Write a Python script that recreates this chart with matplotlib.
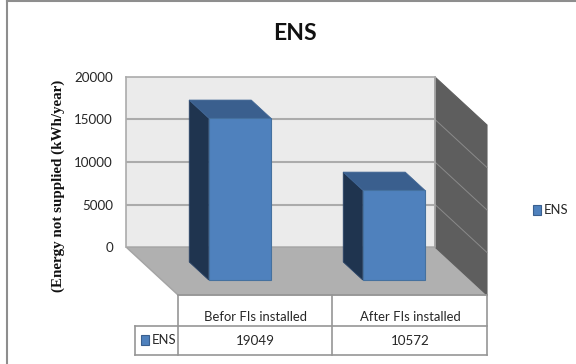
import matplotlib
matplotlib.use("Agg")
import matplotlib.pyplot as plt
from matplotlib.patches import Polygon, Rectangle

categories = ["Befor FIs installed", "After FIs installed"]
series_name = "ENS"
values = [19049, 10572]
y_ticks = [0, 5000, 10000, 15000, 20000]

W, H = 576, 364
UI_FONT = ["Lato", "DejaVu Sans"]
TEXT = "#262626"

fig = plt.figure(figsize=(W / 100, H / 100), dpi=100, facecolor="white")

# Back wall of the 3-D box, horizontal axis in pixels from the wall's left edge
WALL_L, WALL_R, WALL_T, WALL_B = 126, 435, 77, 247
ax = fig.add_axes([WALL_L / W, 1 - WALL_B / H, (WALL_R - WALL_L) / W, (WALL_B - WALL_T) / H])
ax.set_xlim(0, WALL_R - WALL_L)
ax.set_ylim(0, y_ticks[-1])
ax.set_facecolor("#EBEBEB")
units_per_px = y_ticks[-1] / (WALL_B - WALL_T)


def project(x, y, depth):
    """Oblique projection: depth in [0, 1] runs from the back wall to the front edge."""
    return (x + 52 * depth, y - 48 * depth * units_per_px)


def face(points, **kw):
    ax.add_patch(Polygon([project(*p) for p in points], closed=True, clip_on=False, **kw))


ymax = y_ticks[-1]
width = WALL_R - WALL_L

# Floor and right side wall
face([(0, 0, 0), (width, 0, 0), (width, 0, 1), (0, 0, 1)], fc="#B0B0B0", ec="#A4A4A4", lw=1, zorder=1)
face([(width, 0, 0), (width, ymax, 0), (width, ymax, 1), (width, 0, 1)], fc="#5E5E5E", ec="#5E5E5E", lw=0.8, zorder=1)

# Gridlines continue across the side wall
for t in y_ticks[1:-1]:
    ax.plot([0, width], [t, t], color="#ABABAB", lw=1.5, zorder=2, solid_capstyle="butt")
    ax.plot(*zip(project(width, t, 0), project(width, t, 1)), color="#8A8A8A", lw=0.7, zorder=2, clip_on=False)

# Columns
BAR_W = 62
BAR_X = [47, 201]
D0, D1 = 15 / 48, 33 / 48
for x0, v in zip(BAR_X, values):
    x1 = x0 + BAR_W
    face([(x0, 0, D0), (x0, v, D0), (x0, v, D1), (x0, 0, D1)], fc="#1F344F", ec="#2A4468", lw=0.6, zorder=3)
    face([(x0, v, D0), (x1, v, D0), (x1, v, D1), (x0, v, D1)], fc="#3A5F8E", ec="#3F6594", lw=0.6, zorder=4)
    face([(x0, 0, D1), (x1, 0, D1), (x1, v, D1), (x0, v, D1)], fc="#4F81BD", ec="#45719F", lw=0.8, zorder=5)

for s in ax.spines.values():
    s.set_color("#ABABAB")
    s.set_linewidth(1.2)
ax.spines["bottom"].set_visible(False)
ax.set_xticks([])
ax.set_yticks(y_ticks)
ax.tick_params(axis="y", length=0, pad=9.4, labelcolor=TEXT, labelsize=9.6)
for lab in ax.get_yticklabels():
    lab.set_fontfamily(UI_FONT)

fig.text(58.5 / W, 1 - 185.5 / H, "(Energy not supplied (kWh/year)", rotation=90, ha="center", va="center",
         family="Liberation Serif", fontweight="bold", fontsize=10.8, color="#111111")
fig.text(294.5 / W, 1 - 33 / H, series_name, ha="center", va="center", family=UI_FONT, fontweight="bold",
         fontsize=16.5, color="#111111")

# Data table under the floor, placed in figure pixels
overlay = fig.add_axes([0, 0, 1, 1], facecolor="none")
overlay.set_xlim(0, W)
overlay.set_ylim(H, 0)
overlay.axis("off")
LINE = "#969696"
segments = [
    ((178, 295), (178, 355)), ((332, 295), (332, 355)), ((487, 295), (487, 355)),
    ((135, 326), (487, 326)), ((135, 355), (487, 355)), ((135, 326), (135, 355)),
    ((178, 295), (487, 295)),
]
for (xa, ya), (xb, yb) in segments:
    overlay.plot([xa, xb], [ya, yb], color=LINE, lw=1.2, solid_capstyle="projecting")

for cx, cat, v in zip([255.5, 410], categories, values):
    overlay.text(cx, 317, cat, ha="center", va="center", family=UI_FONT, fontsize=9.4, color=TEXT)
    overlay.text(cx, 341, str(v), ha="center", va="center", family=UI_FONT, fontsize=9.6, color=TEXT)

overlay.add_patch(Rectangle((141, 335), 8, 10, fc="#4F81BD", ec="#3A5F8E", lw=0.8))
overlay.text(152, 340, series_name, ha="left", va="center", family=UI_FONT, fontsize=9.4, color=TEXT)

# Legend at the right
overlay.add_patch(Rectangle((533, 205), 8, 10, fc="#4F81BD", ec="#3A5F8E", lw=0.8))
overlay.text(544, 210.5, series_name, ha="left", va="center", family=UI_FONT, fontsize=9.4, color=TEXT)

# Chart frame: only its top and left edges fall inside the canvas
overlay.plot([7, 7], [0, H], color="#8E8E8E", lw=1.5)
overlay.plot([7, W], [1, 1], color="#8E8E8E", lw=1.5)

fig.savefig("out.png", dpi=100)
